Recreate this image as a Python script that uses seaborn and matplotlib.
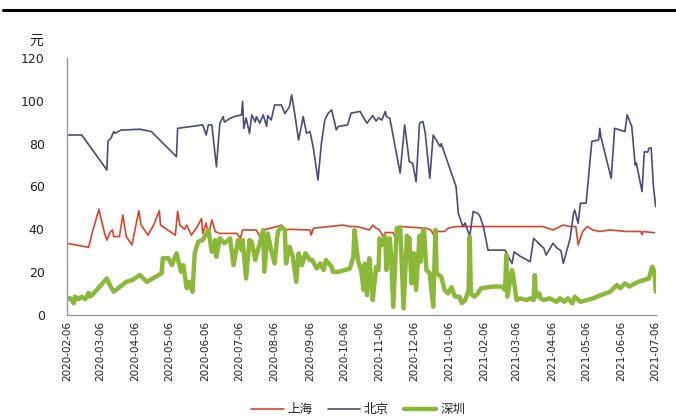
import numpy as np
import pandas as pd
import matplotlib
matplotlib.use("Agg")
import matplotlib.pyplot as plt
import matplotlib.dates as mdates
from matplotlib.lines import Line2D
import seaborn as sns

START = "2020-02-06"
END = "2021-07-06"

# day offsets from 2020-02-06 and values (元)
bj_days = [0, 13, 35, 36, 39, 41, 42, 48, 52, 64, 74, 96, 97, 119, 122, 124, 127, 131, 134, 137,
           138, 143, 147, 153, 154, 155, 157, 160, 162, 165, 166, 169, 172, 175, 176, 179, 182, 188,
           191, 195, 197, 200, 203, 206, 207, 210, 213, 216, 220, 223, 226, 229, 232, 235, 236, 238,
           246, 249, 257, 260, 263, 265, 268, 271, 273, 276, 279, 280, 283, 292, 296, 300, 303, 306,
           309, 312, 314, 318, 321, 327, 328, 341, 343, 347, 349, 353, 356, 360, 362, 365, 369, 384,
           390, 392, 397, 406, 409, 418, 420, 426, 429, 433, 435, 441, 444, 445, 448, 450, 455, 460,
           466, 467, 468, 477, 480, 489, 491, 495, 498, 499, 504, 506, 509, 510, 512, 514, 516]
bj_vals = [84, 84, 67.7, 81, 83, 85.6, 84.8, 86.4, 86.4, 86.7, 85.6, 73.9, 87.1, 88.7, 84, 88.7, 88.7,
           69.2, 89.5, 92.6, 90, 91.8, 92.6, 93.4, 99.6, 87.1, 92, 84.8, 93.4, 90, 92.6, 89.5, 93.4,
           88, 93, 91, 98, 98, 94, 97.2, 102.7, 92.6, 81.7, 89.5, 92.6, 84.8, 85.6, 77.8, 63, 80, 91,
           94.2, 95.7, 89, 86.4, 88, 88.7, 94.2, 95, 92, 89.5, 91, 93, 90.5, 92, 91, 95, 92.6, 91.8,
           66.2, 88.7, 71.6, 70.8, 62.2, 89.5, 90.3, 85, 63.8, 84, 78.6, 80, 60, 47.5, 41.3, 43, 36.6,
           48.3, 47.5, 46, 41.3, 30.3, 30.3, 24, 29.5, 27.5, 24.9, 35.8, 31.1, 28, 33.5, 31.5, 30,
           24.1, 35.8, 47.5, 49, 42.8, 52.2, 52.2, 81, 81.7, 87.1, 83, 63.8, 87.1, 85.6, 93.4, 88, 70,
           71, 57.6, 76.2, 76, 77.8, 78, 60, 50.6]

sh_days = [0, 19, 22, 28, 33, 35, 38, 40, 41, 46, 49, 52, 57, 63, 65, 71, 76, 81, 82, 95, 97, 99,
           103, 105, 109, 114, 118, 119, 122, 124, 127, 130, 134, 149, 152, 154, 166, 169, 172, 184,
           188, 191, 195, 213, 214, 216, 242, 248, 254, 260, 265, 268, 271, 274, 277, 279, 286, 289,
           292, 293, 315, 319, 322, 325, 331, 334, 341, 397, 417, 426, 435, 441, 446, 448, 452, 456,
           461, 467, 476, 490, 503, 504, 505, 515]
sh_vals = [33.5, 31.6, 38.1, 49.3, 38.1, 35, 38.9, 39.7, 36.6, 36.6, 46.7, 36.6, 32.7, 48.7, 42,
           37.3, 42, 48.7, 42, 37.3, 48.3, 42, 40, 42, 37.3, 41, 45.1, 38, 43, 37, 44.4, 38.9, 38.1,
           38.1, 35.8, 39.7, 39.7, 36.6, 39.7, 41.3, 42, 39.7, 40, 39.7, 37.3, 40.5, 42, 41.3, 41.3,
           40.5, 39.7, 42, 40.5, 39.7, 36.6, 38.5, 38.5, 33.5, 39.7, 41.3, 40.5, 39.7, 36.6, 39, 39,
           40.5, 41.3, 41.3, 41.3, 39.7, 42, 41.3, 41.3, 32.7, 39, 41.3, 39.7, 39, 39.7, 39, 39, 37.5,
           39, 38.4]

sz_days = [0, 3, 6, 7, 10, 13, 16, 19, 20, 22, 35, 38, 41, 52, 57, 64, 70, 83, 84, 89, 92, 96, 100,
           102, 105, 107, 110, 112, 115, 119, 124, 127, 130, 131, 134, 138, 143, 146, 150, 153, 154,
           157, 160, 162, 165, 169, 172, 173, 176, 179, 182, 184, 185, 188, 191, 192, 195, 198, 201,
           203, 206, 209, 213, 215, 219, 222, 225, 227, 232, 233, 238, 248, 251, 252, 255, 258, 260,
           261, 263, 265, 267, 268, 271, 273, 274, 276, 279, 280, 281, 283, 284, 286, 289, 292, 293,
           295, 298, 299, 300, 302, 304, 306, 309, 310, 312, 313, 315, 318, 321, 323, 324, 328, 331,
           334, 337, 340, 344, 346, 349, 352, 353, 354, 357, 360, 363, 373, 381, 384, 385, 386, 390,
           391, 394, 397, 403, 406, 409, 410, 411, 414, 415, 418, 423, 429, 432, 436, 439, 443, 445,
           450, 461, 468, 476, 482, 485, 489, 493, 499, 505, 510, 513, 515, 516]
sz_vals = [7.8, 7.8, 5.5, 8.6, 7.4, 8.6, 7.4, 10.4, 8.6, 9.3, 17.1, 13.5, 10.9, 15.5, 16.3, 18.7,
           15.5, 19.5, 26.5, 26.5, 23.3, 28.8, 20.2, 23.3, 12.5, 15.5, 10.9, 28.8, 34.2, 35, 39.7,
           29.5, 35, 27.2, 35.8, 33.5, 35.8, 23.3, 35, 30.3, 35, 17.1, 35, 34.2, 25.7, 33.5, 39.7,
           20.2, 38.1, 30.3, 24.1, 35, 39, 41.3, 39.7, 24.1, 31.9, 27.2, 15.5, 28.8, 23.3, 28.8, 25.7,
           25.7, 21.7, 24.1, 21, 25.7, 22.5, 20.2, 20.2, 21.7, 27.2, 39.7, 25.7, 20.2, 11.7, 24, 9.3,
           26.5, 15, 7, 22.5, 21, 35.8, 32.7, 36.6, 21, 32.7, 35.8, 28, 3.9, 40.5, 41, 30.3, 3.1, 37,
           28, 36, 14.8, 28.8, 11.7, 37, 25, 39.7, 39.7, 21, 19.5, 3.9, 39.7, 19.5, 17.9, 11.7, 10.1,
           13, 8.6, 8.6, 5.5, 7, 11.7, 36.6, 10, 8.6, 10, 12.5, 13.3, 13.3, 11.7, 28, 8.6, 21, 18.7, 7,
           7.8, 7, 7.8, 7, 18.7, 8.6, 10.1, 7.8, 7, 7.8, 6.2, 7.8, 6.2, 7.8, 5.5, 8.6, 6.2, 7.8, 9.3,
           10.9, 14, 12.5, 14.8, 13.3, 15.1, 16.3, 17, 22.6, 20, 10.9]

series_names = ["上海", "北京", "深圳"]
colors = {"上海": "#d8442a", "北京": "#4b4b7c", "深圳": "#8cb83a"}
widths = {"上海": 1.2, "北京": 1.2, "深圳": 3.2}
y_ticks = [0, 20, 40, 60, 80, 100, 120]

start = pd.Timestamp(START)
def mk(days, vals, name):
    return pd.DataFrame({"date": start + pd.to_timedelta(days, unit="D"), "value": vals, "city": name})

df = pd.concat([mk(sh_days, sh_vals, "上海"), mk(bj_days, bj_vals, "北京"), mk(sz_days, sz_vals, "深圳")])

sns.set_style("white")
plt.rcParams["font.family"] = ["DejaVu Sans", "Noto Sans CJK SC"]

fig = plt.figure(figsize=(6.76, 4.19), dpi=100)
ax = fig.add_axes([0.099, 0.248, 0.871, 0.614])

for name in series_names:
    sub = df[df.city == name]
    sns.lineplot(data=sub, x="date", y="value", ax=ax, color=colors[name],
                 linewidth=widths[name], label=name, legend=False)

ax.set_xlim(start, pd.Timestamp(END))
ax.set_ylim(0, 120)
ax.set_yticks(y_ticks)
ax.xaxis.set_major_locator(mdates.MonthLocator(bymonthday=6))
ax.xaxis.set_major_formatter(mdates.DateFormatter("%Y-%m-%d"))
ax.tick_params(axis="x", labelrotation=90, labelsize=7.5, direction="in", length=3,
               color="#999999", labelcolor="#222222", pad=4)
ax.tick_params(axis="y", labelsize=9, direction="in", length=3, color="#999999",
               labelcolor="#222222", pad=16)
ax.set_xlabel("")
ax.set_ylabel("")
for s in ["top", "right"]:
    ax.spines[s].set_visible(False)
for s in ["left", "bottom"]:
    ax.spines[s].set_color("#999999")
    ax.spines[s].set_linewidth(1.0)

fig.text(0.054, 0.903, "元", fontsize=10, ha="center", va="center",
         family=["Noto Sans CJK SC", "DejaVu Sans"], color="#222222")

handles = [Line2D([0], [0], color=colors[n], lw=widths[n]) for n in series_names]
leg = fig.legend(handles, series_names, loc="center", bbox_to_anchor=(0.53, 0.022), ncol=3,
                 frameon=False, handlelength=2.6, columnspacing=1.2, handletextpad=0.3,
                 prop={"family": ["Noto Sans CJK SC", "DejaVu Sans"], "size": 9})

fig.add_artist(Line2D([0.005, 1.0], [0.976, 0.976], color="black", lw=2.2, transform=fig.transFigure))

fig.savefig("out.png", dpi=100, facecolor="white")
